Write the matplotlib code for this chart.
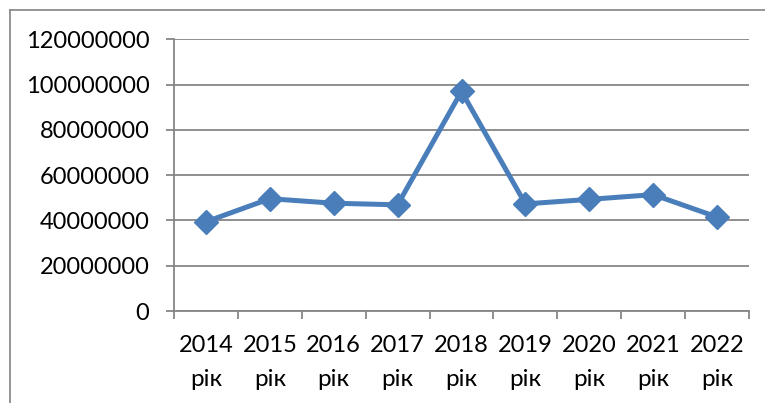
import matplotlib
matplotlib.use("Agg")
import matplotlib.pyplot as plt
from matplotlib.lines import Line2D

years = ["2014", "2015", "2016", "2017", "2018", "2019", "2020", "2021", "2022"]
suffix = "рік"
values = [39400000, 49600000, 47600000, 46900000, 97000000,
          47300000, 49300000, 51400000, 41500000]
yticks = [0, 20000000, 40000000, 60000000, 80000000, 100000000, 120000000]

plt.rcParams['font.family'] = ['Lato', 'DejaVu Sans']

W, H = 765, 403
fig = plt.figure(figsize=(W / 100, H / 100), dpi=100)
ax_h = 311 - 39.3
ax = fig.add_axes([174 / W, 1 - 311 / H, (749 - 174) / W, ax_h / H])

x = list(range(len(years)))
ax.plot(x, values, color="#4A7EBB", lw=3.6, marker="D", ms=12.5,
        markerfacecolor="#4A7EBB", markeredgecolor="#4A7EBB", zorder=3)

ax.set_xlim(-0.5, len(years) - 0.5)
ax.set_ylim(0, 120000000)
ax.set_yticks(yticks)
ax.set_yticklabels([str(v) for v in yticks])
ax.set_xticks(x)
ax.set_xticklabels(years)
ax.set_xticks([i - 0.5 for i in range(len(years) + 1)], minor=True)

# second line of category labels
for i in x:
    ax.text(i, -74.5 / ax_h, suffix, transform=ax.get_xaxis_transform(),
            ha="center", va="baseline", fontsize=17.5, color="black")

grid_c = "#868686"
ax.yaxis.grid(True, color=grid_c, lw=1.3)
ax.set_axisbelow(True)
for s in ["top", "right"]:
    ax.spines[s].set_visible(False)
for s in ["left", "bottom"]:
    ax.spines[s].set_color(grid_c)
    ax.spines[s].set_linewidth(1.3)

ax.tick_params(axis="y", direction="out", length=5.8, width=1.3, color=grid_c,
               labelsize=17, pad=12, labelcolor="black")
ax.tick_params(axis="x", which="major", length=0, labelsize=17, pad=17,
               labelcolor="black")
ax.tick_params(axis="x", which="minor", direction="out", length=5.8, width=1.3,
               color=grid_c)

# outer chart border (top and left visible)
fig.add_artist(Line2D([10 / W, 1.0], [1 - 9.5 / H, 1 - 9.5 / H],
                      transform=fig.transFigure, color="#8C8C8C", lw=1.3))
fig.add_artist(Line2D([10 / W, 10 / W], [0, 1 - 9.5 / H],
                      transform=fig.transFigure, color="#8C8C8C", lw=1.3))

fig.savefig("out.png", dpi=100)
